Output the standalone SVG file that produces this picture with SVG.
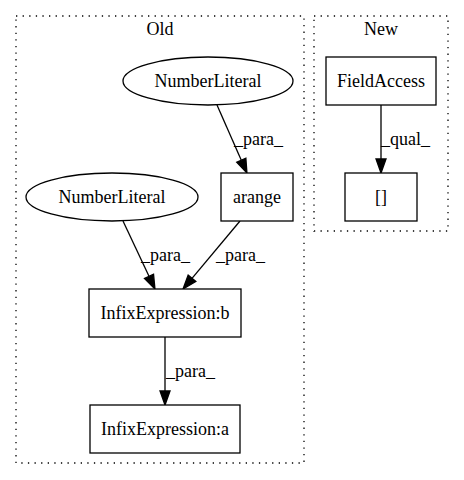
<svg xmlns="http://www.w3.org/2000/svg" width="464" height="480" viewBox="0 0 464 480">
<defs>
<style>
text{font-family:"Liberation Serif","Times New Roman",serif;font-size:18px;fill:#000}
.c{text-anchor:middle}
.cl{fill:none;stroke:#000;stroke-width:1.3;stroke-dasharray:1.3,5.3}
.n{fill:#fff;stroke:#000;stroke-width:1.3}
.e{fill:none;stroke:#000;stroke-width:1.3}
</style>
<marker id="ah" markerUnits="userSpaceOnUse" markerWidth="16" markerHeight="12" refX="0" refY="5" orient="auto" viewBox="0 0 16 10" overflow="visible">
<path d="M0,0 L14,5 L0,10 z" fill="#000" stroke="#000" stroke-width="1.3"/>
</marker>
</defs>
<rect width="464" height="480" fill="#fff"/>
<g id="cluster_old">
<rect class="cl" x="16" y="16" width="288" height="447"/>
<text class="c" x="160" y="35">Old</text>
</g>
<g id="cluster_new">
<rect class="cl" x="314" y="16" width="134" height="215"/>
<text class="c" x="381" y="35">New</text>
</g>
<g id="connectors">
<line class="e" x1="217" y1="105" x2="241.3" y2="160.2" marker-end="url(#ah)"/>
<text x="234" y="145">_para_</text>
<line class="e" x1="123" y1="221" x2="149" y2="276.3" marker-end="url(#ah)"/>
<text x="141" y="261">_para_</text>
<line class="e" x1="240" y1="221" x2="192" y2="278.3" marker-end="url(#ah)"/>
<text x="216" y="261">_para_</text>
<line class="e" x1="165" y1="337" x2="165" y2="391" marker-end="url(#ah)"/>
<text x="166" y="377">_para_</text>
<line class="e" x1="381" y1="105" x2="381" y2="159" marker-end="url(#ah)"/>
<text x="381" y="145">_qual_</text>
</g>
<g id="numberliteral_top">
<ellipse class="n" cx="208" cy="81" rx="85" ry="24"/>
<text class="c" x="208" y="87">NumberLiteral</text>
</g>
<g id="numberliteral_left">
<ellipse class="n" cx="112" cy="197" rx="86" ry="24"/>
<text class="c" x="112" y="203">NumberLiteral</text>
</g>
<g id="arange">
<rect class="n" x="221" y="173" width="72" height="48"/>
<text class="c" x="257" y="203">arange</text>
</g>
<g id="infix_b">
<rect class="n" x="89" y="289" width="152" height="48"/>
<text class="c" x="165" y="319">InfixExpression:b</text>
</g>
<g id="infix_a">
<rect class="n" x="90" y="405" width="150" height="48"/>
<text class="c" x="165" y="435">InfixExpression:a</text>
</g>
<g id="fieldaccess">
<rect class="n" x="326" y="57" width="110" height="48"/>
<text class="c" x="381" y="87">FieldAccess</text>
</g>
<g id="brackets">
<rect class="n" x="345" y="173" width="72" height="48"/>
<text class="c" x="381" y="203">[]</text>
</g>
</svg>
